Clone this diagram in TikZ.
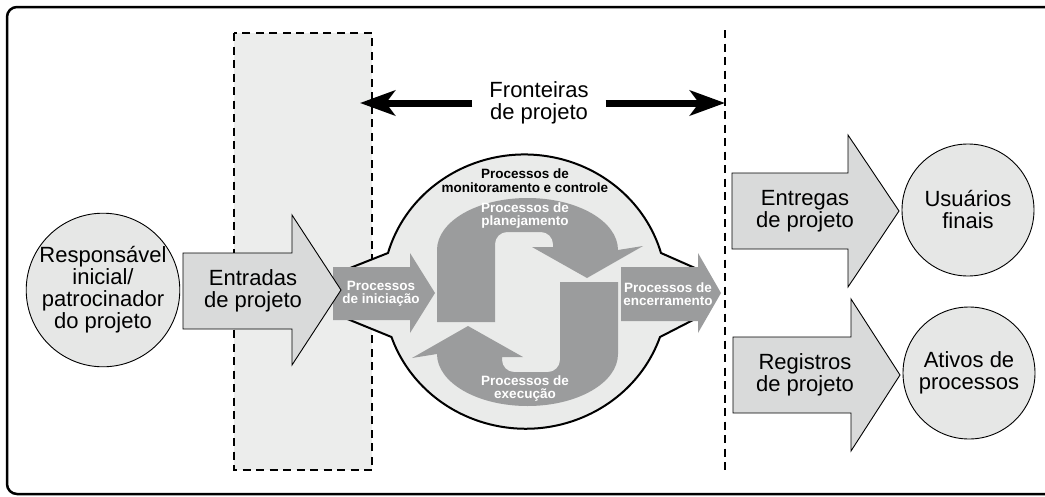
\documentclass[tikz,border=0pt]{standalone}
\usepackage{fontspec}
\setmainfont{Liberation Sans}
\usetikzlibrary{arrows.meta}
\definecolor{procgray}{HTML}{9B9C9D}
\definecolor{blobgray}{HTML}{EAEBEA}
\definecolor{zonegray}{HTML}{ECEDEC}
\definecolor{arrowgray}{HTML}{D9DADA}
\definecolor{circgray}{HTML}{E6E7E6}

\tikzset{
  bigtext/.style={font=\fontsize{22}{22}\selectfont, align=center, inner sep=0pt},
  proctext/.style={font=\fontsize{13.5}{13}\selectfont\bfseries, align=center, inner sep=0pt, text=white},
  blockarrow/.style={fill=arrowgray, draw=black, line width=0.9pt},
  actor/.style={circle, fill=circgray, draw=black, line width=0.9pt, inner sep=0pt},
  frontier/.style={dash pattern=on 8pt off 5.5pt, line width=1.8pt}
}

\begin{document}
\begin{tikzpicture}[x=1pt, y=-1pt, >={Stealth[length=35pt, width=25pt, inset=9pt]}]

% Frame (cut on the right)
\clip (0,0) rectangle (1045,496);
\draw[line width=2.5pt, rounded corners=10pt] (7,7) rectangle (1080,494);

% Project boundaries
\filldraw[fill=zonegray, draw=black, frontier] (234,33) rectangle (372,470);
\draw[frontier] (725,30) -- (725,470);

\coordinate (bleft) at (360,103);
\coordinate (bright) at (725,103);
\node[bigtext, inner xsep=17pt] (fronteiras) at (539,103) {Fronteiras\\de projeto};
\draw[line width=7pt, ->] (fronteiras.west) -- (bleft);
\draw[line width=7pt, ->] (fronteiras.east) -- (bright);

% ================================================================
% Process group blob
% ================================================================
\filldraw[fill=blobgray, draw=black, line width=2pt, line join=round]
  (345,270) -- (388,253)
  arc[start angle=164, end angle=16, x radius=142pt, y radius=136pt]
  -- (695,268) -- (695,319) -- (660,337)
  arc[start angle=-19, end angle=-161, x radius=142pt, y radius=136pt]
  -- (345,318) -- cycle;

% Planning arrow (upper half of the S)
\fill[procgray] (437,322) -- (437,250)
  arc[start angle=180, end angle=0, x radius=90.5pt, y radius=52pt]
  -- (643,246) -- (587,278) -- (532,247) -- (553,247)
  {[rounded corners=12pt] -- (553,232) -- (495,232) -- (495,260)} -- (495,322) -- cycle;

% Executing arrow (lower half of the S)
\fill[procgray] (618,282) -- (618,354)
  arc[start angle=0, end angle=-180, x radius=90.5pt, y radius=52pt]
  -- (412,358) -- (468,326) -- (523,357) -- (502,357)
  {[rounded corners=12pt] -- (502,372) -- (560,372) -- (560,344)} -- (560,282) -- cycle;

% Initiating and closing arrows
\fill[procgray] (333,267) -- (410,267) -- (410,253) -- (435,293) -- (410,333) -- (410,320) -- (333,320) -- cycle;
\fill[procgray] (621,267) -- (698,267) -- (698,253) -- (721,293) -- (698,333) -- (698,321) -- (621,321) -- cycle;

\node[font=\fontsize{13.5}{14}\selectfont\bfseries, align=center, inner sep=0pt] (monitor) at (525,181)
  {Processos de\\monitoramento e controle};
\node[proctext] (planning) at (525,216) {Processos de\\planejamento};
\node[proctext] (execution) at (525,389) {Processos de\\execução};
\node[proctext] (initiation) at (381,294) {Processos\\de iniciação};
\node[proctext] (closing) at (668,294) {Processos de\\encerramento};

% ================================================================
% Inputs and outputs
% ================================================================
\filldraw[blockarrow] (183,253) -- (292,253) -- (292,215) -- (341,290) -- (292,365) -- (292,329) -- (183,329) -- cycle;
\node[bigtext] (entradas) at (253,291) {Entradas\\de projeto};

\node[actor, minimum size=150pt, bigtext] (sponsor) at (103,290)
  {Responsável\\inicial/\\patrocinador\\do projeto};

\filldraw[blockarrow] (732,173) -- (848,173) -- (848,135) -- (899,211) -- (848,287) -- (848,249) -- (732,249) -- cycle;
\node[bigtext] (entregas) at (805,211) {Entregas\\de projeto};

\filldraw[blockarrow] (733,337) -- (851,337) -- (851,299) -- (900,375) -- (851,451) -- (851,413) -- (733,413) -- cycle;
\node[bigtext] (registros) at (805,375) {Registros\\de projeto};

\node[actor, minimum size=132pt, bigtext] (usuarios) at (968,210) {Usuários\\finais};
\node[actor, minimum size=132pt, bigtext] (ativos) at (969,373) {Ativos de\\processos};

\end{tikzpicture}
\end{document}
